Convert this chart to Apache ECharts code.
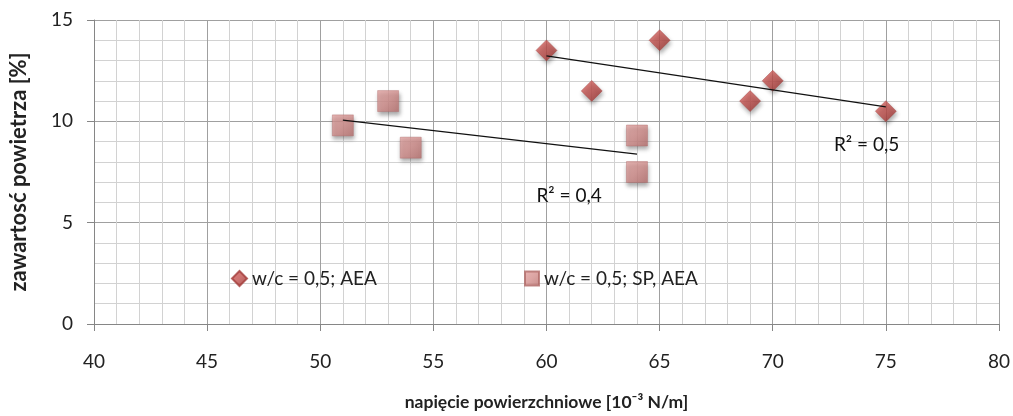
<!DOCTYPE html>
<html><head><meta charset="utf-8">
<script src="https://cdn.jsdelivr.net/npm/echarts@6/dist/echarts.min.js"></script>
<style>html,body{margin:0;padding:0;background:#fff}#c{width:1013px;height:416px}</style>
</head><body><div id="c"></div>
<script>
const seriesAName = 'w/c = 0,5; AEA';
const seriesAx = [60, 62, 65, 69, 70, 75];
const seriesAy = [13.5, 11.5, 14, 11, 12, 10.5];
const seriesBName = 'w/c = 0,5; SP, AEA';
const seriesBx = [51, 53, 54, 64, 64];
const seriesBy = [9.8, 11, 8.7, 9.3, 7.5];
const r2Labels = ['R² = 0,5', 'R² = 0,4'];
const r2Pos = [[74.15, 8.84], [61.0, 6.34]];
const xTitle = 'napięcie powierzchniowe [10⁻³ N/m]';
const yTitle = 'zawartosć powietrza [%]';

function pairs(xs, ys){ return xs.map((x,i)=>[x, ys[i]]); }
function trend(xs, ys){
  const n = xs.length, mx = xs.reduce((a,b)=>a+b,0)/n, my = ys.reduce((a,b)=>a+b,0)/n;
  let sxy=0, sxx=0;
  for(let i=0;i<n;i++){ sxy+=(xs[i]-mx)*(ys[i]-my); sxx+=(xs[i]-mx)**2; }
  const b = sxy/sxx, a = my - b*mx;
  const x0 = Math.min(...xs), x1 = Math.max(...xs);
  return [[x0, a+b*x0], [x1, a+b*x1]];
}
const FONT = 'Lato';
const diamondFill = {type:'linear',x:0,y:0,x2:1,y2:1,colorStops:[{offset:0,color:'#d8625e'},{offset:0.5,color:'#c0504d'},{offset:1,color:'#922c2a'}]};
const squareFill = {type:'linear',x:0,y:0,x2:1,y2:1,colorStops:[{offset:0,color:'#e2a3a1'},{offset:0.5,color:'#d38e8c'},{offset:1,color:'#b8706e'}]};

const chart = echarts.init(document.getElementById('c'));
chart.setOption({
  animation:false,
  backgroundColor:'#fff',
  textStyle:{fontFamily:FONT},
  grid:{left:93, right:13, top:20, bottom:91, containLabel:false},
  legend:[
    {data:[{name:seriesAName, icon:'diamond'}], left:226, top:264, itemWidth:15, itemHeight:15,
     textStyle:{fontFamily:FONT, fontSize:19, color:'#222'}},
    {data:[{name:seriesBName, icon:'rect'}], left:519, top:264, itemWidth:14, itemHeight:14,
     textStyle:{fontFamily:FONT, fontSize:19, color:'#222'}}
  ],
  xAxis:{
    type:'value', min:40, max:80, interval:5,
    name:xTitle, nameLocation:'middle', nameGap:69,
    nameTextStyle:{fontFamily:FONT, fontSize:17.5, fontWeight:'bold', color:'#222'},
    axisLine:{show:true, lineStyle:{color:'#868686'}},
    axisTick:{show:true, length:7, lineStyle:{color:'#868686'}},
    axisLabel:{margin:28, fontSize:19, color:'#222', fontFamily:FONT},
    splitLine:{show:true, lineStyle:{color:'#a0a0a0', width:1}},
    minorTick:{show:false, splitNumber:5},
    minorSplitLine:{show:true, lineStyle:{color:'#d2d2d2', width:1}}
  },
  yAxis:{
    type:'value', min:0, max:15, interval:5,
    name:yTitle, nameLocation:'middle', nameGap:64,
    nameTextStyle:{fontFamily:FONT, fontSize:22, fontWeight:'bold', color:'#222'},
    axisLine:{show:true, lineStyle:{color:'#868686'}},
    axisTick:{show:true, length:7, lineStyle:{color:'#868686'}},
    axisLabel:{margin:21, fontSize:19, color:'#222', fontFamily:FONT},
    splitLine:{show:true, lineStyle:{color:'#a0a0a0', width:1}},
    minorTick:{show:false, splitNumber:5},
    minorSplitLine:{show:true, lineStyle:{color:'#d2d2d2', width:1}}
  },
  series:[
    {name:seriesAName, type:'scatter', data:pairs(seriesAx, seriesAy), symbol:'diamond', symbolSize:21,
     itemStyle:{color:diamondFill, borderColor:'#a33c39', borderWidth:0.5, shadowColor:'rgba(0,0,0,0.4)', shadowBlur:4, shadowOffsetX:1, shadowOffsetY:3},
     z:3},
    {name:seriesBName, type:'scatter', data:pairs(seriesBx, seriesBy), symbol:'rect', symbolSize:21,
     itemStyle:{color:squareFill, borderColor:'#b06a68', borderWidth:0.5, shadowColor:'rgba(0,0,0,0.4)', shadowBlur:4, shadowOffsetX:1, shadowOffsetY:3},
     z:3},
    {name:'trendA', type:'line', data:trend(seriesAx, seriesAy), symbol:'none', silent:true,
     lineStyle:{color:'#111', width:1.2}, z:4,
     markPoint:{symbol:'circle', symbolSize:0, silent:true,
       data:[{coord:r2Pos[0], value:r2Labels[0]}],
       label:{show:true, formatter:'{c}', color:'#111', fontSize:19, fontFamily:FONT}}},
    {name:'trendB', type:'line', data:trend(seriesBx, seriesBy), symbol:'none', silent:true,
     lineStyle:{color:'#111', width:1.2}, z:4,
     markPoint:{symbol:'circle', symbolSize:0, silent:true,
       data:[{coord:r2Pos[1], value:r2Labels[1]}],
       label:{show:true, formatter:'{c}', color:'#111', fontSize:19, fontFamily:FONT}}}
  ]
});
</script></body></html>
